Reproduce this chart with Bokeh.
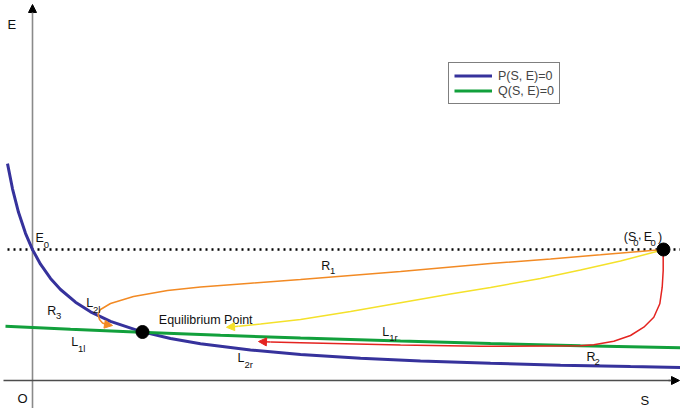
from bokeh.plotting import figure
from bokeh.models import Range1d, Arrow, NormalHead, Legend, LegendItem
from bokeh.embed import file_html
from bokeh.resources import INLINE
from bokeh.core.properties import value

# ---------------- data (S, E) ----------------
# nullcline P(S, E) = 0
p_s = [-25, -20, -14, -7, 0, 8, 18, 28, 43, 58, 78, 108, 138, 168, 218, 268, 328, 388, 458, 528, 598, 648]
p_e = [216.9, 191.7, 168.2, 147.2, 130.9, 116.3, 102.1, 91.0, 78.3, 68.7, 59.2, 49.1, 42.0, 36.7, 30.5,
       26.1, 22.3, 19.6, 17.2, 15.3, 13.9, 13.0]
# nullcline Q(S, E) = 0
q_s = [-27, 38, 108, 188, 268, 368, 458, 548, 648]
q_e = [54.2, 51.2, 48.3, 45.2, 42.4, 39.4, 37.0, 34.8, 32.7]
# special points
eq_s, eq_e = [110], [48.5]
s0, e0 = [631], [131]
# trajectories
r1_s = [631, 568, 518, 458, 368, 268, 218, 168, 135, 101, 78, 68, 65.5, 67, 70, 74, 80]
r1_e = [131, 125.7, 121.6, 117, 109, 101, 97.3, 93.5, 90, 84, 77, 71, 66, 61, 57.5, 56, 55]
yl_s = [628, 588, 548, 508, 458, 418, 368, 318, 268, 228, 206, 194]
yl_e = [130, 119.5, 110.5, 102, 93, 86.4, 77.7, 69, 61, 56.5, 54.2, 53.2]
r2_s = [630.7, 630.7, 629.7, 627.3, 621.3, 611.3, 598, 581.3, 561.3, 548, 448, 368, 268, 238, 226]
r2_e = [125, 110, 93.3, 76.7, 63.3, 53.3, 45, 39.3, 35.7, 34.7, 34.2, 35.5, 37.8, 38.4, 39]

legend_labels = ["P(S, E)=0", "Q(S, E)=0"]

BLUE = "#36329c"
GREEN = "#12a03c"
ORANGE = "#f28a24"
YELLOW = "#f4e12a"
RED = "#e42420"
FONT = "Liberation Sans"

p = figure(width=680, height=408, x_range=Range1d(-32, 648), y_range=Range1d(-28, 380),
           output_backend="svg", toolbar_location=None, min_border=0,
           x_axis_type=None, y_axis_type=None, outline_line_color=None)
p.background_fill_color = "white"
p.border_fill_color = "white"

# dotted E = E0 line
p.line([-25, 660], [e0[0], e0[0]], line_color="black", line_width=2.5, line_dash="2 4")

# axes with arrows
xs0, xs1 = p.x_range.start, p.x_range.end
ys0, ys1 = p.y_range.start, p.y_range.end
p.line([0, 0], [ys0 - 5, ys1 - 10], line_color="#8a8a8a", line_width=1.6)
p.add_layout(Arrow(end=NormalHead(size=8, fill_color="black", line_color="black"),
                   x_start=0, y_start=ys1 - 13, x_end=0, y_end=ys1 - 4,
                   line_color="#8a8a8a", line_width=1.6))
p.line([xs0 + 3, xs1 - 10], [0, 0], line_color="#4d4d4d", line_width=1.5)
p.add_layout(Arrow(end=NormalHead(size=8, fill_color="black", line_color="black"),
                   x_start=xs1 - 12, y_start=0, x_end=xs1 - 1, y_end=0,
                   line_color="#4d4d4d", line_width=1.5))

# nullclines
rb = p.line(p_s, p_e, line_color=BLUE, line_width=3)
rg = p.line(q_s, q_e, line_color=GREEN, line_width=3)

# trajectories
for ts, te, col in [(r1_s, r1_e, ORANGE), (yl_s, yl_e, YELLOW), (r2_s, r2_e, RED)]:
    p.line(ts[:-1], te[:-1], line_color=col, line_width=1.5)
    p.add_layout(Arrow(end=NormalHead(size=8, fill_color=col, line_color=col, line_width=1),
                       x_start=ts[-2], y_start=te[-2], x_end=ts[-1], y_end=te[-1],
                       line_color=col, line_width=1.5))

# points
p.scatter(eq_s, eq_e, size=13, fill_color="black", line_color="black")
p.scatter(s0, e0, size=13, fill_color="black", line_color="black")

# axis letters
p.text(x=[-25, -15, 608], y=[356, -18, -20], text=["E", "O", "S"],
       text_font=value(FONT), text_font_size="13px", text_baseline="alphabetic",
       text_align="left", text_color="#111111")

# labels with subscripts
main_t = ["E", "R", "R", "R", "L", "L", "L", "L", "(S", "E", ")", ","]
main_x = [3, 288.7, 554, 14.7, 53.7, 38.7, 349.7, 205, 591.3, 611.2, 625.5, 605.5]
main_y = [142.7, 114.7, 23.3, 70, 77.7, 38.3, 48.3, 22.5, 143.3, 143.3, 143.3, 146]
p.text(x=main_x, y=main_y, text=main_t, text_font=value(FONT), text_font_size="12.5px",
       text_baseline="alphabetic", text_align="left", text_color="#111111")
sub_t = ["0", "1", "2", "3", "2l", "1l", "1r", "2r", "0", "0"]
sub_x = [11.3, 297.5, 562, 23.5, 60.5, 45.5, 356.7, 212, 600.7, 618]
sub_y = [136, 109.3, 18.3, 65, 70.7, 31.7, 42.7, 16, 137.3, 137.3]
p.text(x=sub_x, y=sub_y, text=sub_t, text_font=value(FONT), text_font_size="9.5px",
       text_baseline="alphabetic", text_align="left", text_color="#111111")

p.text(x=[126.3], y=[61], text=["Equilibrium Point"], text_font=value(FONT),
       text_font_size="12.5px", text_baseline="alphabetic", text_align="left", text_color="#111111")

legend = Legend(items=[LegendItem(label=legend_labels[0], renderers=[rb]),
                       LegendItem(label=legend_labels[1], renderers=[rg])],
                location=(448, 304), padding=5, spacing=0, margin=0,
                glyph_height=15, glyph_width=38, label_height=15, label_standoff=6,
                label_text_font=FONT, label_text_font_size="12.5px",
                border_line_color="black", border_line_width=1.5,
                background_fill_color="white", background_fill_alpha=1.0)
p.add_layout(legend)

open("out.html", "w").write(file_html(p, INLINE))
